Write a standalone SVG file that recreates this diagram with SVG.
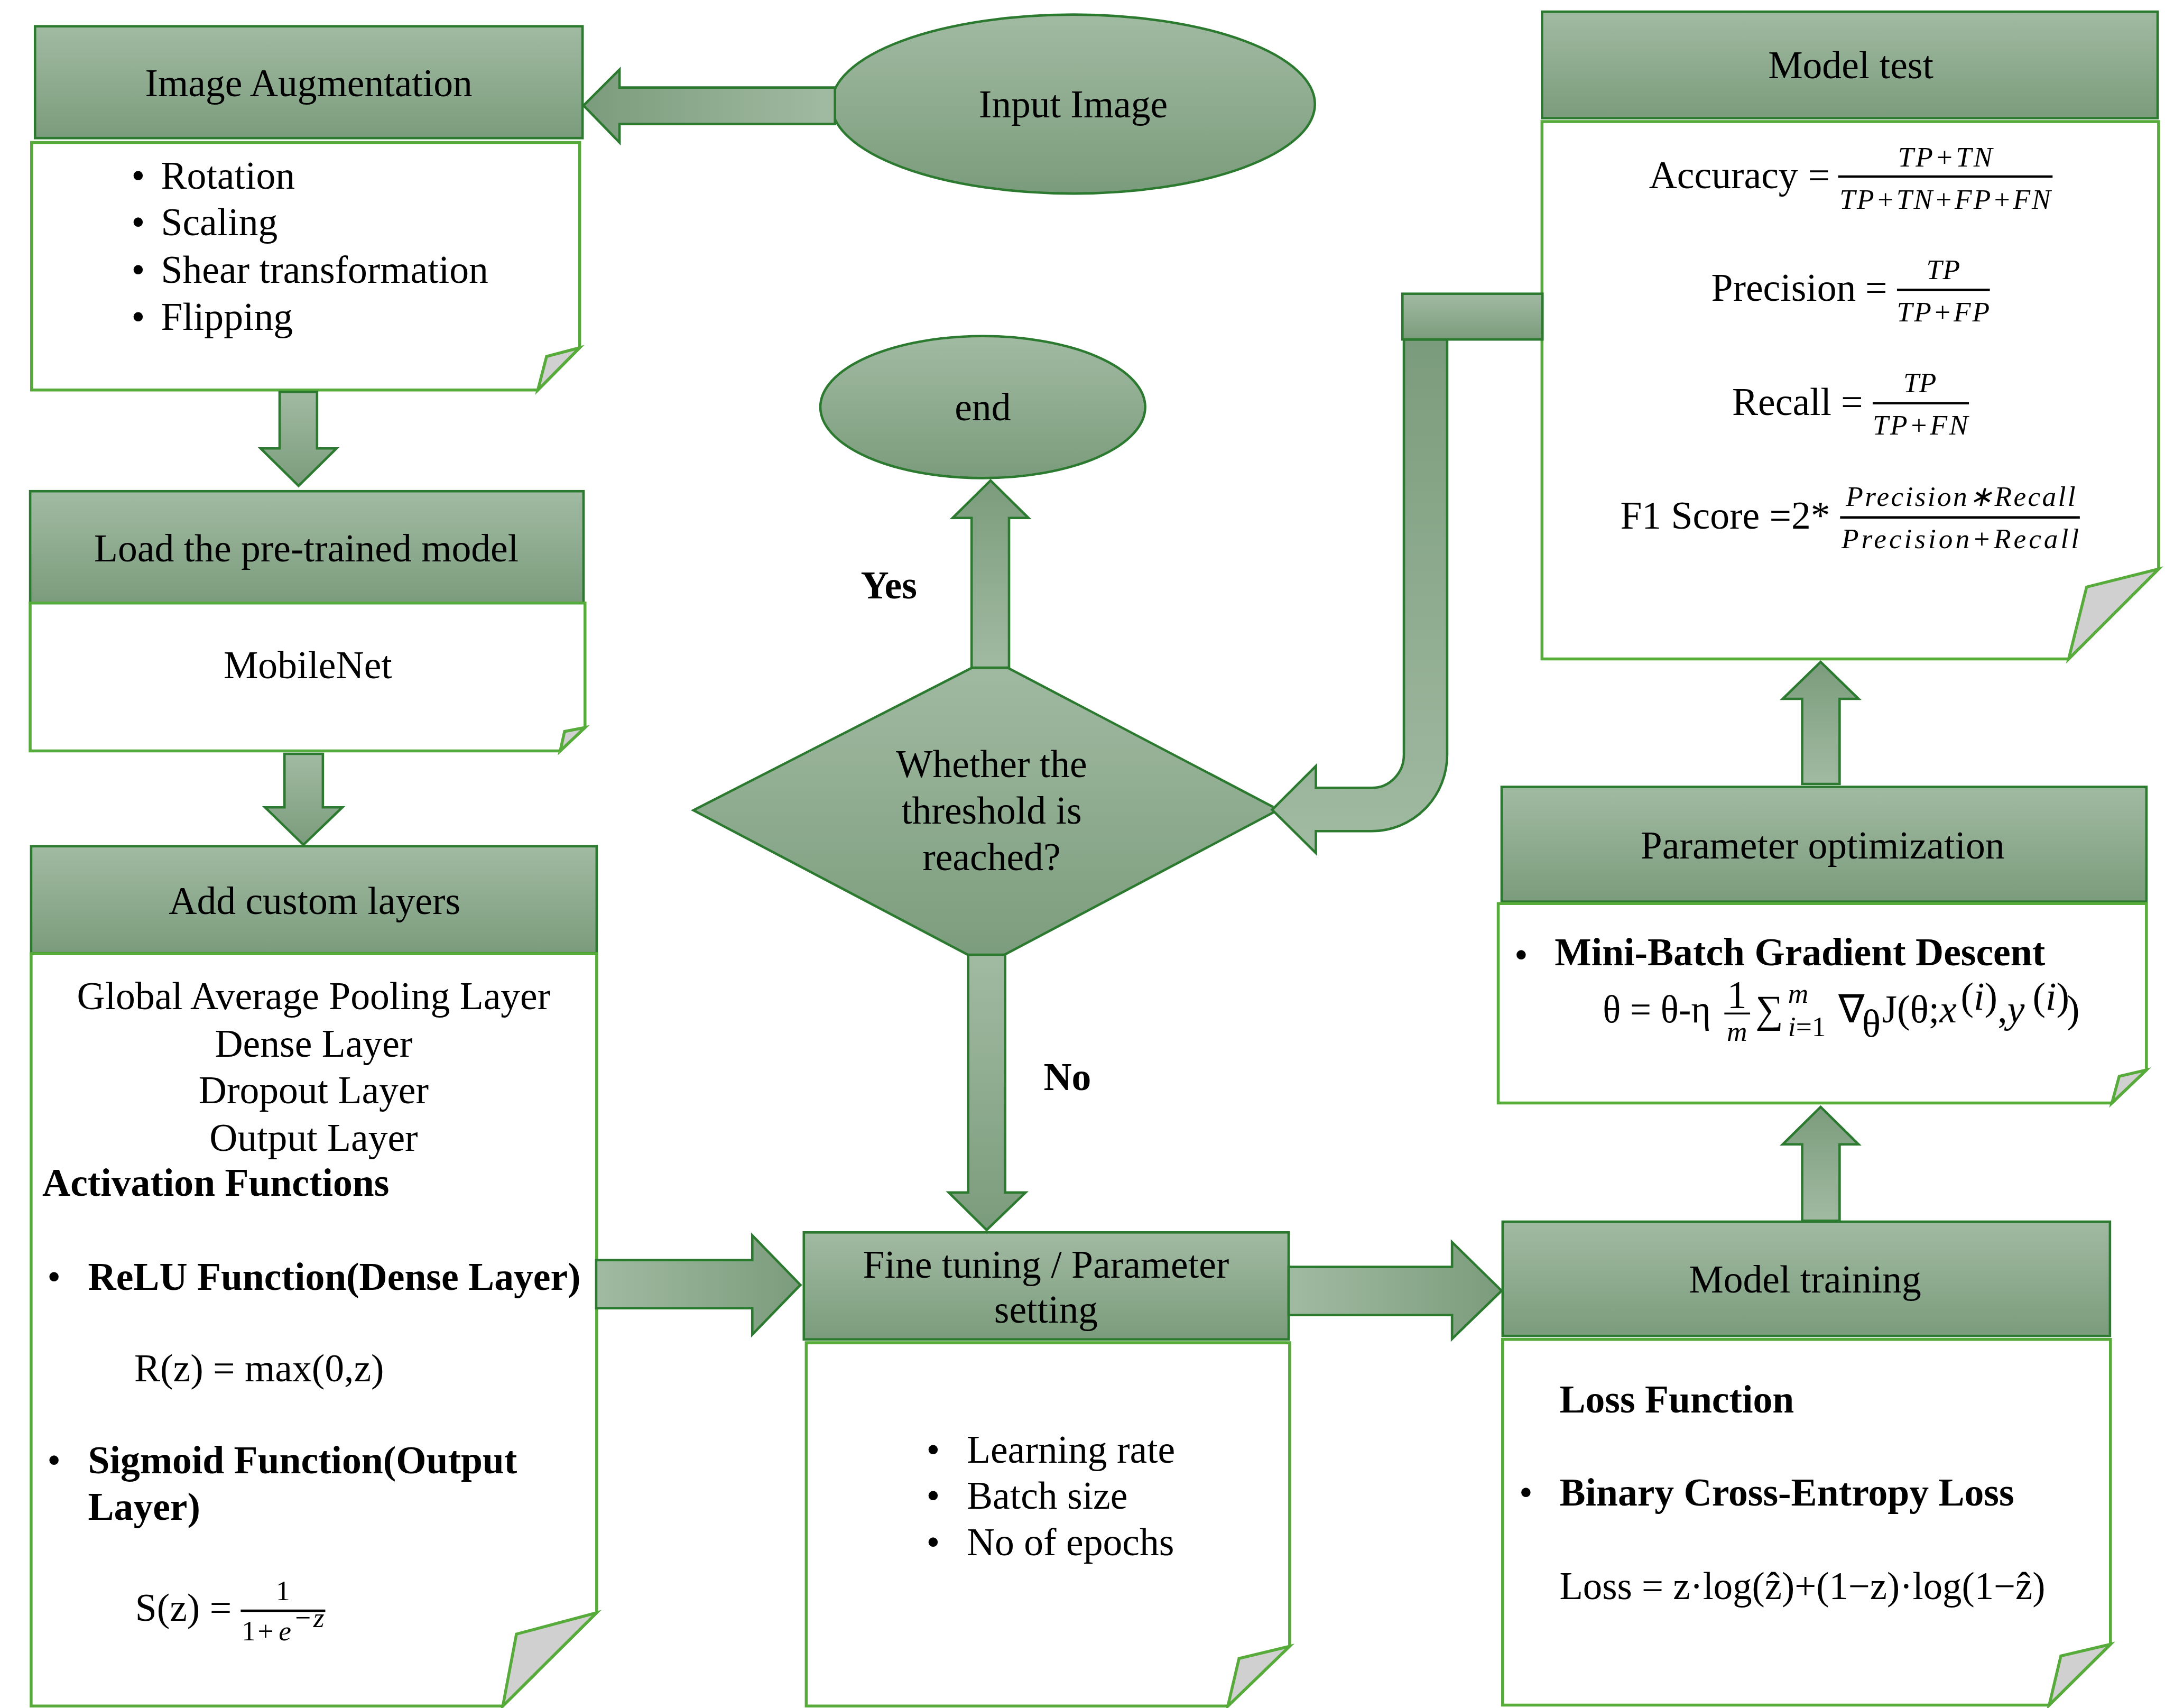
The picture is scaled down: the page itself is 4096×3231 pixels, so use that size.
<svg xmlns="http://www.w3.org/2000/svg" width="4096" height="3231" viewBox="0 0 4096 3231">
<defs>
<linearGradient id="gV" x1="0" y1="0" x2="0" y2="1"><stop offset="0" stop-color="#a1baa2"/><stop offset="1" stop-color="#7b9c7c"/></linearGradient>
<linearGradient id="gUp" x1="0" y1="0" x2="0" y2="1"><stop offset="0" stop-color="#7b9c7c"/><stop offset="1" stop-color="#a1baa2"/></linearGradient>
<linearGradient id="gR" x1="0" y1="0" x2="1" y2="0"><stop offset="0" stop-color="#a1baa2"/><stop offset="1" stop-color="#7b9c7c"/></linearGradient>
<linearGradient id="gL" x1="0" y1="0" x2="1" y2="0"><stop offset="0" stop-color="#7b9c7c"/><stop offset="1" stop-color="#a1baa2"/></linearGradient>
<style>
.hd{fill:url(#gV);stroke:#2b7a2f;stroke-width:5}
.bd{fill:#ffffff;stroke:#56ab3a;stroke-width:6}
.fold{fill:#d0d0d0;stroke:#56ab3a;stroke-width:6;stroke-linejoin:miter}
.ar{stroke:#2b7a2f;stroke-width:5;stroke-linejoin:miter}
.t{font-family:"Liberation Serif","Times New Roman",serif;font-size:80px;fill:#000}
.c{text-anchor:middle}
.b{font-weight:bold}
.m{font-family:"Liberation Serif","Times New Roman",serif;font-style:italic;font-size:58px;fill:#000}
.fl{stroke:#000;stroke-width:5}
</style>
</defs>
<rect x="0" y="0" width="4096" height="3231" fill="#ffffff"/>
<g transform="scale(0.92)">

<g id="input-image">
<ellipse cx="2207" cy="214" rx="497" ry="184" class="hd"/>
<text x="2207" y="241" class="t c">Input Image</text>
</g>

<g id="image-augmentation">
<rect x="72" y="54" width="1126" height="230" class="hd"/>
<polygon points="65,293 1192,293 1192,715 1106,802 65,802" class="bd"/>
<polygon points="1192,715 1106,802 1124,733" class="fold"/>
<text x="635" y="198" class="t c">Image Augmentation</text>
<text class="t"><tspan x="270" y="388">•</tspan><tspan x="331" y="388">Rotation</tspan><tspan x="270" y="484">•</tspan><tspan x="331" y="484">Scaling</tspan><tspan x="270" y="581">•</tspan><tspan x="331" y="581">Shear transformation</tspan><tspan x="270" y="678">•</tspan><tspan x="331" y="678">Flipping</tspan></text>
</g>

<g id="load-model">
<rect x="62" y="1010" width="1138" height="230" class="hd"/>
<polygon points="62,1240 1203,1240 1203,1496 1152,1544 62,1544" class="bd"/>
<polygon points="1203,1496 1152,1544 1161,1504" class="fold"/>
<text x="630" y="1154" class="t c">Load the pre-trained model</text>
<text x="633" y="1395" class="t c">MobileNet</text>
</g>

<g id="add-custom-layers">
<rect x="64" y="1740" width="1163" height="220" class="hd"/>
<polygon points="64,1961 1227,1961 1227,3316 1034,3508 64,3508" class="bd"/>
<polygon points="1227,3316 1034,3508 1062,3360" class="fold"/>
<text x="647" y="1879" class="t c">Add custom layers</text>
<text x="645" y="2075" class="t c">Global Average Pooling Layer</text>
<text x="645" y="2173" class="t c">Dense Layer</text>
<text x="645" y="2269" class="t c">Dropout Layer</text>
<text x="645" y="2366" class="t c">Output Layer</text>
<text x="87" y="2459" class="t b">Activation Functions</text>
<text x="97" y="2652" class="t">•</text>
<text x="181" y="2652" class="t b">ReLU Function(Dense Layer)</text>
<text x="276" y="2840" class="t">R(z) = max(0,z)</text>
<text x="97" y="3029" class="t">•</text>
<text x="181" y="3029" class="t b">Sigmoid Function(Output</text>
<text x="181" y="3125" class="t b">Layer)</text>
<text x="278" y="3333" class="t">S(z) =</text>
<text x="582" y="3290" class="m c" style="font-style:normal">1</text>
<line x1="495" y1="3312" x2="669" y2="3312" class="fl"/>
<text y="3373" class="m" style="font-style:normal"><tspan x="497">1</tspan><tspan x="530">+</tspan><tspan x="573" font-style="italic">e</tspan></text>
<text x="603" y="3346" class="m" font-size="44" textLength="64" lengthAdjust="spacing">−z</text>
</g>

<g id="decision">
<polygon points="2036,1354 2629,1665 2028,1983 1426,1666" class="hd"/>
<text x="2039" y="1598" class="t c">Whether the</text>
<text x="2039" y="1694" class="t c">threshold is</text>
<text x="2039" y="1789" class="t c">reached?</text>
</g>

<g id="end">
<ellipse cx="2021" cy="837" rx="334" ry="146" class="hd"/>
<text x="2021" y="864" class="t c">end</text>
</g>

<g id="fine-tuning">
<rect x="1653" y="2534" width="997" height="220" class="hd"/>
<polygon points="1658,2761 2652,2761 2652,3385 2525,3508 1658,3508" class="bd"/>
<polygon points="2652,3385 2525,3508 2548,3410" class="fold"/>
<text x="2151" y="2627" class="t c">Fine tuning / Parameter</text>
<text x="2151" y="2720" class="t c">setting</text>
<text class="t"><tspan x="1905" y="3008">•</tspan><tspan x="1988" y="3008">Learning rate</tspan><tspan x="1905" y="3102">•</tspan><tspan x="1988" y="3102">Batch size</tspan><tspan x="1905" y="3198">•</tspan><tspan x="1988" y="3198">No of epochs</tspan></text>
</g>

<g id="model-training">
<rect x="3090" y="2512" width="1249" height="235" class="hd"/>
<polygon points="3090,2754 4340,2754 4340,3381 4214,3506 3090,3506" class="bd"/>
<polygon points="4340,3381 4214,3506 4238,3405" class="fold"/>
<text x="3712" y="2658" class="t c">Model training</text>
<text x="3207" y="2904" class="t b">Loss Function</text>
<text x="3124" y="3096" class="t">•</text>
<text x="3207" y="3096" class="t b">Binary Cross-Entropy Loss</text>
<text x="3207" y="3288" class="t" textLength="999" lengthAdjust="spacingAndGlyphs">Loss = z·log(ẑ)+(1−z)·log(1−ẑ)</text>
</g>

<g id="parameter-optimization">
<rect x="3088" y="1618" width="1326" height="236" class="hd"/>
<polygon points="3081,1858 4414,1858 4414,2200 4343,2268 3081,2268" class="bd"/>
<polygon points="4414,2200 4343,2268 4358,2213" class="fold"/>
<text x="3748" y="1765" class="t c">Parameter optimization</text>
<text x="3114" y="1990" class="t">•</text>
<text x="3197" y="1985" class="t b">Mini-Batch Gradient Descent</text>
<text x="3296" y="2102" class="t" textLength="222" lengthAdjust="spacingAndGlyphs">θ = θ-η</text>
<text x="3572" y="2073" class="t c" font-size="42">1</text>
<line x1="3546" y1="2084" x2="3599" y2="2084" stroke="#000" stroke-width="4"/>
<text x="3572" y="2140" class="m c" font-size="50">m</text>
<text x="3610" y="2102" class="t" font-size="76">∑</text>
<text x="3677" y="2062" class="m" font-size="44">m</text>
<text x="3677" y="2130" class="m" font-size="44">i<tspan font-style="normal">=1</tspan></text>
<text x="3780" y="2102" class="t" font-size="76">∇</text>
<text x="3829" y="2132" class="t" font-size="46">θ</text>
<text x="3870" y="2102" class="t" font-size="76">J(θ;<tspan font-style="italic">x</tspan></text>
<text x="4032" y="2076" class="t" font-size="46">(<tspan font-style="italic">i</tspan>)</text>
<text x="4108" y="2102" class="t" font-size="76">,<tspan font-style="italic">y</tspan></text>
<text x="4180" y="2076" class="t" font-size="46">(<tspan font-style="italic">i</tspan>)</text>
<text x="4250" y="2102" class="t" font-size="76">)</text>
</g>

<g id="model-test">
<rect x="3171" y="24" width="1266" height="219" class="hd"/>
<polygon points="3171,250 4439,250 4439,1170 4254,1355 3171,1355" class="bd"/>
<polygon points="4439,1170 4254,1355 4291,1207" class="fold"/>
<text x="3806" y="161" class="t c">Model test</text>
<text x="3391" y="387" class="t">Accuracy</text>
<text x="3718" y="387" class="t">=</text>
<text x="4000" y="342" class="m c" textLength="194" lengthAdjust="spacing">TP+TN</text>
<line x1="3780" y1="363" x2="4221" y2="363" class="fl"/>
<text x="4000" y="429" class="m c" textLength="434" lengthAdjust="spacing">TP+TN+FP+FN</text>
<text x="3519" y="619" class="t">Precision</text>
<text x="3836" y="619" class="t">=</text>
<text x="3996" y="574" class="m c" textLength="69" lengthAdjust="spacing">TP</text>
<line x1="3901" y1="596" x2="4092" y2="596" class="fl"/>
<text x="3996" y="661" class="m c" textLength="191" lengthAdjust="spacing">TP+FP</text>
<text x="3562" y="853" class="t">Recall</text>
<text x="3786" y="853" class="t">=</text>
<text x="3948" y="806" class="m c" textLength="68" lengthAdjust="spacing">TP</text>
<line x1="3851" y1="829" x2="4049" y2="829" class="fl"/>
<text x="3949" y="893" class="m c" textLength="196" lengthAdjust="spacing">TP+FN</text>
<text x="3332" y="1087" class="t">F1 Score =2*</text>
<text x="4032" y="1040" class="m c" textLength="472" lengthAdjust="spacing">Precision∗Recall</text>
<line x1="3784" y1="1064" x2="4277" y2="1064" class="fl"/>
<text x="4031" y="1127" class="m c" textLength="488" lengthAdjust="spacing">Precision+Recall</text>
</g>

<g id="connectors">
<polygon points="1717,180 1274,180 1274,143 1200,217 1274,293 1274,255 1717,255" class="ar" fill="url(#gL)"/>
<polygon points="575,806 652,806 652,922 692,922 614,999 536,922 575,922" class="ar" fill="url(#gV)"/>
<polygon points="585,1550 664,1550 664,1660 704,1660 624,1737 545,1660 585,1660" class="ar" fill="url(#gV)"/>
<polygon points="1226,2591 1547,2591 1547,2540 1646,2642 1547,2744 1547,2690 1226,2690" class="ar" fill="url(#gR)"/>
<polygon points="2650,2605 2986,2605 2986,2554 3088,2654 2986,2753 2986,2704 2650,2704" class="ar" fill="url(#gR)"/>
<polygon points="1998,1373 2075,1373 2075,1065 2115,1065 2037,988 1959,1065 1998,1065" class="ar" fill="url(#gUp)"/>
<polygon points="1991,1963 2067,1963 2067,2452 2109,2452 2029,2529 1951,2452 1991,2452" class="ar" fill="url(#gV)"/>
<polygon points="3706,2510 3783,2510 3783,2353 3822,2353 3744,2276 3666,2353 3706,2353" class="ar" fill="url(#gUp)"/>
<polygon points="3706,1612 3783,1612 3783,1437 3822,1437 3744,1361 3666,1437 3706,1437" class="ar" fill="url(#gUp)"/>
<path d="M2887,698 L2976,698 L2976,1552 A155,157 0 0 1 2821,1709 L2706,1709 L2706,1754 L2616,1665 L2706,1575 L2706,1620 L2821,1620 A66,68 0 0 0 2887,1552 Z" class="ar" fill="url(#gUp)"/>
<rect x="2884" y="604" width="288" height="94" class="ar" fill="url(#gV)"/>
<text x="1828" y="1230" class="t c b">Yes</text>
<text x="2195" y="2241" class="t c b">No</text>
</g>

</g>
</svg>
